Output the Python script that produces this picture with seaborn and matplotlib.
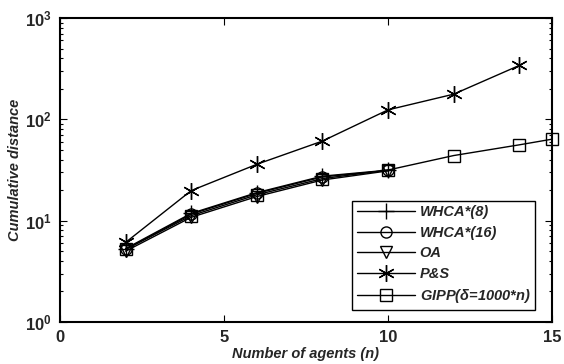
import matplotlib
matplotlib.use("Agg")
import matplotlib.pyplot as plt
import seaborn as sns
import pandas as pd
from matplotlib.ticker import LogLocator, NullFormatter, FixedLocator

# Cumulative distance vs. number of agents
x_short = [2, 4, 6, 8, 10]
whca8 = [5.3, 11.8, 18.9, 27.5, 31.5]
whca16 = [5.2, 11.6, 18.6, 27.0, 31.3]
oa = [5.0, 10.8, 17.3, 25.2, 31.0]

x_ps = [2, 4, 6, 8, 10, 12, 14]
ps = [6.1, 19.8, 36.0, 61.0, 124.0, 177.0, 340.0]

x_gipp = [2, 4, 6, 8, 10, 12, 14, 15]
gipp = [5.2, 11.2, 18.0, 26.0, 31.6, 43.9, 56.0, 63.7]

labels = ["WHCA*(8)", "WHCA*(16)", "OA", "P&S", r"GIPP($\mathregular{\delta}$=1000*n)"]
x_ticks = [0, 5, 10, 15]

sns.set_style("ticks")
plt.rcParams["font.family"] = ["Liberation Sans", "DejaVu Sans"]
plt.rcParams["mathtext.fontset"] = "custom"
plt.rcParams["mathtext.rm"] = "Liberation Sans:bold:italic"

fig = plt.figure(figsize=(5.64, 3.64), dpi=100)
ax = fig.add_axes([60 / 564, 1 - 322 / 364, 492 / 564, 304 / 364])

series = [
    (x_short, whca8, labels[0], dict(marker="+", markersize=12, mew=1.0, fillstyle="none")),
    (x_short, whca16, labels[1], dict(marker="o", markersize=8, mew=1.0, fillstyle="none")),
    (x_short, oa, labels[2], dict(marker="v", markersize=8, mew=1.0, fillstyle="none")),
    (x_ps, ps, labels[3], dict(marker=(6, 2, 0), markersize=12, mew=1.0)),
    (x_gipp, gipp, labels[4], dict(marker="s", markersize=8, mew=1.0, fillstyle="none")),
]

for xs, ys, lab, kw in series:
    df = pd.DataFrame({"n": xs, "d": ys})
    sns.lineplot(data=df, x="n", y="d", ax=ax, color="black", linewidth=1.0,
                 markeredgecolor="black", label=lab, clip_on=False, zorder=3, **kw)

ax.set_yscale("log")
ax.set_ylim(1, 1000)
ax.set_xlim(0, 15)
ax.xaxis.set_major_locator(FixedLocator(x_ticks))
ax.set_xticklabels([str(t) for t in x_ticks])
ax.yaxis.set_major_locator(LogLocator(base=10, numticks=10))
ax.yaxis.set_minor_locator(LogLocator(base=10, subs=range(2, 10), numticks=10))
ax.yaxis.set_minor_formatter(NullFormatter())

ax.tick_params(axis="both", which="both", direction="in", top=True, right=True,
               color="black", width=0.8)
ax.tick_params(axis="both", which="major", length=5, labelsize=12, pad=6)
ax.tick_params(axis="y", which="minor", length=2.5)
for lbl in ax.get_xticklabels() + ax.get_yticklabels():
    lbl.set_fontweight("bold")
for sp in ax.spines.values():
    sp.set_linewidth(1.5)
    sp.set_color("black")

ax.set_xlabel("Number of agents (n)", fontsize=10.5, fontweight="bold", style="italic", labelpad=1)
ax.set_ylabel("Cumulative distance", fontsize=10.5, fontweight="bold", style="italic", labelpad=2)

leg = ax.legend(loc="lower right", bbox_to_anchor=(0.965, 0.04), frameon=True, fancybox=False,
                edgecolor="black", framealpha=1, handlelength=4.0, borderpad=0.3,
                labelspacing=0.45, handletextpad=0.3, borderaxespad=0,
                prop=dict(family=["Liberation Sans", "DejaVu Sans"], weight="bold",
                          style="italic", size=10.5))
leg.get_frame().set_linewidth(1.0)
leg.set_zorder(5)

fig.savefig("out.png", dpi=100)
